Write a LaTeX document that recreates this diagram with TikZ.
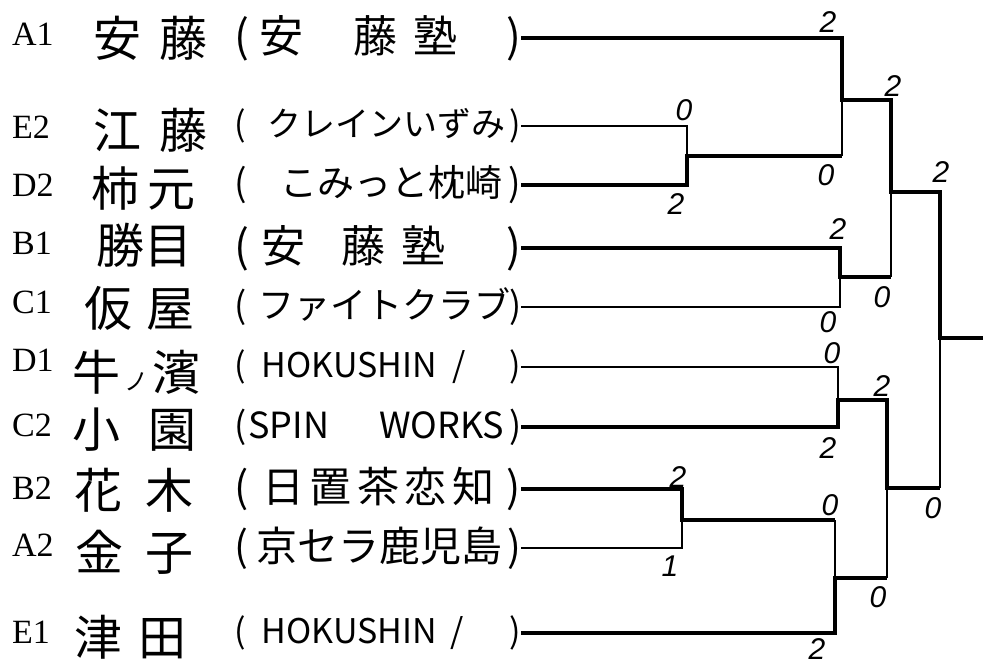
\documentclass[tikz,border=0pt]{standalone}
\usepackage{fontspec}
\newfontfamily\jp{Noto Sans CJK JP}
\newfontfamily\hand{Liberation Sans}
\newfontfamily\lat{Liberation Serif}
\newcommand{\tmbox}[2]{\hbox to 287pt{(\hskip #1pt #2\hfill)}}
\begin{document}
\begin{tikzpicture}[x=1pt,y=-1pt,
  lab/.style={anchor=west,inner sep=0pt,font=\lat\fontsize{34}{34}\selectfont},
  nm/.style={anchor=west,inner sep=0pt,font=\jp\fontsize{48}{48}\selectfont},
  tm/.style={anchor=west,inner sep=0pt,font=\jp\fontsize{36}{36}\selectfont},
  sc/.style={inner sep=0pt,font=\hand\itshape\fontsize{30}{30}\selectfont},
  lose/.style={line width=1.3pt},
  win/.style={line width=3.2pt}]
\useasboundingbox (0,0) rectangle (983,666);
\fill[white] (0,0) rectangle (983,666);
% seed labels
\node[lab] (lA1) at (12,34) {A1};
\node[lab] (lE2) at (12,127) {E2};
\node[lab] (lD2) at (12,185) {D2};
\node[lab] (lB1) at (12,243) {B1};
\node[lab] (lC1) at (12,302) {C1};
\node[lab] (lD1) at (12,360) {D1};
\node[lab] (lC2) at (12,425) {C2};
\node[lab] (lB2) at (12,488) {B2};
\node[lab] (lA2) at (12,545) {A2};
\node[lab] (lE1) at (12,632) {E1};
% player names
\node[nm] (nA1) at (93,38) {\hbox to 114pt{安\hfill 藤}};
\node[nm] (nE2) at (93,130) {\hbox to 114pt{江\hfill 藤}};
\node[nm] (nD2) at (91,188) {\hbox to 104pt{柿\hfill 元}};
\node[nm] (nB1) at (96,245) {\hbox to 94pt{勝\hfill 目}};
\node[nm] (nC1) at (84,308) {\hbox to 110pt{仮\hfill 屋}};
\node[nm] (nD1) at (72,372) {\hbox to 128pt{牛\hfill{\fontsize{24}{24}\selectfont ノ}\hfill 濱}};
\node[nm] (nC2) at (72,430) {\hbox to 124pt{小\hfill 園}};
\node[nm] (nB2) at (74,490) {\hbox to 119pt{花\hfill 木}};
\node[nm] (nA2) at (75,552) {\hbox to 118pt{金\hfill 子}};
\node[nm] (nE1) at (74,637) {\hbox to 112pt{津\hfill 田}};
% clubs
\node[tm,font=\jp\fontsize{44}{44}\selectfont] (tA1) at (234,38) {\tmbox{10}{安\hspace{50pt}藤\hspace{16pt}塾}};
\node[tm,font=\jp\fontsize{34}{34}\selectfont] (tE2) at (234,126) {\tmbox{22}{\hbox to 230pt{クレイン\hfill いずみ}}};
\node[tm,font=\jp\fontsize{37}{37}\selectfont] (tD2) at (234,185) {\tmbox{34}{\hbox to 212pt{こみっと\hfill 枕崎}}};
\node[tm,font=\jp\fontsize{44}{44}\selectfont] (tB1) at (234,248) {\tmbox{12}{安\hspace{36pt}藤\hspace{16pt}塾}};
\node[tm,font=\jp\fontsize{36}{36}\selectfont] (tC1) at (234,307) {\tmbox{12}{\hbox to 244pt{フ\hfill ァ\hfill イ\hfill ト\hfill ク\hfill ラ\hfill ブ}}};
\node[tm,font=\jp\fontsize{34}{34}\selectfont] (tD1) at (234,367) {\tmbox{16}{\hbox to 204pt{HOKUSHIN\hfill /}}};
\node[tm,font=\jp\fontsize{36}{36}\selectfont] (tC2) at (234,427) {\tmbox{2}{\hbox to 256pt{SPIN\hfill WORKS}}};
\node[tm,font=\jp\fontsize{42}{42}\selectfont] (tB2) at (234,489) {\tmbox{14}{\hbox to 232pt{日\hfill 置\hfill 茶\hfill 恋\hfill 知}}};
\node[tm,font=\jp\fontsize{41}{41}\selectfont] (tA2) at (234,548) {\tmbox{8}{\hbox to 244pt{京\hfill セ\hfill ラ\hfill 鹿\hfill 児\hfill 島}}};
\node[tm,font=\jp\fontsize{34}{34}\selectfont] (tE1) at (234,633) {\tmbox{16}{\hbox to 202pt{HOKUSHIN\hfill /}}};
% match points
\coordinate (m1) at (687,156);
\coordinate (m2) at (682,520);
\coordinate (m3) at (842,100);
\coordinate (m4) at (840,277);
\coordinate (m5) at (838,400);
\coordinate (m6) at (835,578);
\coordinate (m7) at (891,192);
\coordinate (m8) at (887,488);
\coordinate (m9) at (940,338);
\coordinate (champ) at (983,338);
% losing segments
\draw[lose] (tE2.east) -- (tE2.east -| m1) -- (m1);
\draw[lose] (m1 -| m3) -- (m3);
\draw[lose] (m4 -| m7) -- (m7);
\draw[lose] (tC1.east) -- (tC1.east -| m4) -- (m4);
\draw[lose] (tD1.east) -- (tD1.east -| m5) -- (m5);
\draw[lose] (m8 -| m9) -- (m9);
\draw[lose] (m2 -| m6) -- (m6);
\draw[lose] (tA2.east) -- (tA2.east -| m2) -- (m2);
\draw[lose] (m6 -| m8) -- (m8);
% winning segments
\draw[win] (tA1.east) -- (tA1.east -| m3) -- (m3) -- (m3 -| m7) -- (m7) -- (m7 -| m9) -- (m9) -- (champ);
\draw[win] (tD2.east) -- (tD2.east -| m1) -- (m1) -- (m1 -| m3);
\draw[win] (tB1.east) -- (tB1.east -| m4) -- (m4) -- (m4 -| m7);
\draw[win] (tC2.east) -- (tC2.east -| m5) -- (m5) -- (m5 -| m8) -- (m8) -- (m8 -| m9);
\draw[win] (tB2.east) -- (tB2.east -| m2) -- (m2) -- (m2 -| m6);
\draw[win] (tE1.east) -- (tE1.east -| m6) -- (m6) -- (m6 -| m8);
% scores
\node[sc] (s1) at (828,22) {2};
\node[sc] (s2) at (826,175) {0};
\node[sc] (s3) at (684,110) {0};
\node[sc] (s4) at (676,204) {2};
\node[sc] (s5) at (893,86) {2};
\node[sc] (s6) at (882,297) {0};
\node[sc] (s7) at (838,229) {2};
\node[sc] (s8) at (828,322) {0};
\node[sc] (s9) at (941,172) {2};
\node[sc] (s10) at (832,353) {0};
\node[sc] (s11) at (828,448) {2};
\node[sc] (s12) at (882,386) {2};
\node[sc] (s13) at (933,508) {0};
\node[sc] (s14) at (678,477) {2};
\node[sc] (s15) at (670,566) {1};
\node[sc] (s16) at (830,505) {0};
\node[sc] (s17) at (817,649) {2};
\node[sc] (s18) at (878,597) {0};
\end{tikzpicture}
\end{document}
